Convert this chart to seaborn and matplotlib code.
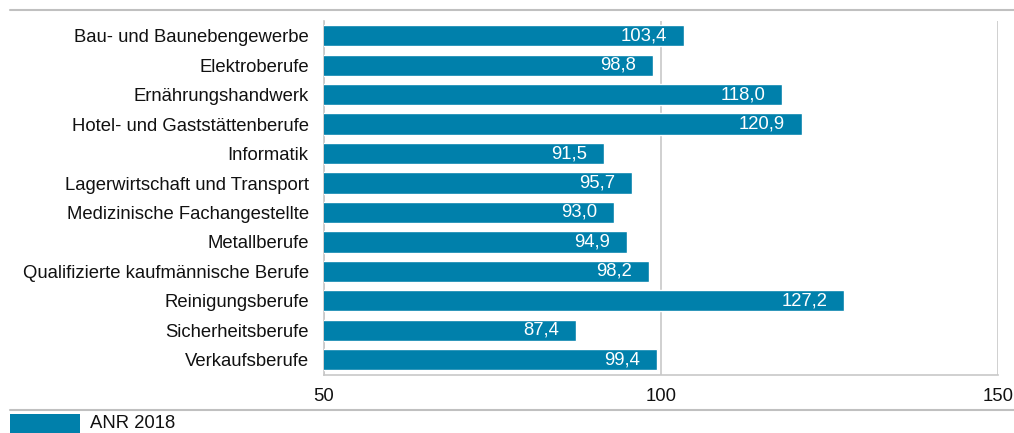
import matplotlib
matplotlib.use("Agg")
import matplotlib.pyplot as plt
import seaborn as sns
import pandas as pd
from matplotlib.lines import Line2D
from matplotlib.patches import Rectangle

categories = [
    "Bau- und Baunebengewerbe",
    "Elektroberufe",
    "Ernährungshandwerk",
    "Hotel- und Gaststättenberufe",
    "Informatik",
    "Lagerwirtschaft und Transport",
    "Medizinische Fachangestellte",
    "Metallberufe",
    "Qualifizierte kaufmännische Berufe",
    "Reinigungsberufe",
    "Sicherheitsberufe",
    "Verkaufsberufe",
]
values = [103.4, 98.8, 118.0, 120.9, 91.5, 95.7, 93.0, 94.9, 98.2, 127.2, 87.4, 99.4]
series_name = "ANR 2018"
x_ticks = [50, 100, 150]

BAR = "#0080AB"
GRID = "#C8C8C8"
FS = 13.3

sns.set_theme(style="white")
plt.rcParams["font.family"] = ["Liberation Sans", "DejaVu Sans"]

df = pd.DataFrame({"cat": categories, "val": values})

fig = plt.figure(figsize=(10.14, 4.33), dpi=100)
ax = fig.add_axes([324 / 1014, 1 - 374.5 / 433, (998 - 324) / 1014, (374.5 - 21) / 433])

sns.barplot(data=df, y="cat", x="val", orient="h", color=BAR, saturation=1,
            width=0.72, ax=ax, zorder=3)

ax.set_xlim(50, 150)
ax.set_xticks(x_ticks)
ax.set_xticklabels([str(t) for t in x_ticks], fontsize=FS, color="#111111")
ax.set_xlabel("")
ax.set_ylabel("")
ax.tick_params(axis="y", length=0, pad=11, labelsize=FS, labelcolor="#111111")
ax.tick_params(axis="x", length=4, width=1, color=GRID, direction="out", pad=6)

for s in ["top", "right"]:
    ax.spines[s].set_visible(False)
for s in ["left", "bottom"]:
    ax.spines[s].set_color(GRID)
    ax.spines[s].set_linewidth(1.2)
ax.grid(axis="x", color=GRID, linewidth=1.2, zorder=0)
ax.grid(axis="y", visible=False)
ax.set_axisbelow(True)

for p, v in zip(ax.patches, values):
    y = p.get_y() + p.get_height() / 2
    ax.text(p.get_x() + p.get_width() - 2.5, y, f"{v:.1f}".replace(".", ","),
            ha="right", va="center", color="white", fontsize=FS, zorder=4)

# decorative lines
fig.add_artist(Line2D([10 / 1014, 1.0], [1 - 10 / 433] * 2, color="#C0C0C0", linewidth=1.5,
                      transform=fig.transFigure))
fig.add_artist(Line2D([10 / 1014, 1.0], [1 - 410 / 433] * 2, color="#C0C0C0", linewidth=1.5,
                      transform=fig.transFigure))

# legend
fig.add_artist(Rectangle((10 / 1014, 0.0), 70 / 1014, 19 / 433,
                         transform=fig.transFigure, facecolor=BAR, edgecolor="none"))
fig.text(90 / 1014, 1 - 423.5 / 433, series_name, fontsize=FS, color="#111111",
         ha="left", va="center")

fig.savefig("out.png", dpi=100)
